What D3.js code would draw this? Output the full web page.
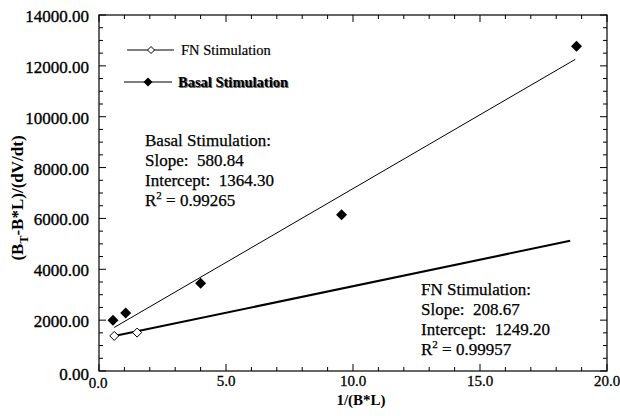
<!DOCTYPE html>
<html><head><meta charset="utf-8">
<script src="https://cdn.jsdelivr.net/npm/d3@7/dist/d3.min.js"></script>
<style>body{margin:0;background:#fff}svg{display:block}svg text{font-family:"Liberation Serif","Times New Roman",Times,serif;fill:#000;white-space:pre}</style>
</head><body>
<svg id="c" width="620" height="416" font-family="Liberation Serif"></svg>
<script>
// Data
const fnX = [0.6, 1.5];
const fnY = [1380, 1510];
const basalX = [0.55, 1.05, 4.0, 9.55, 18.8];
const basalY = [2000, 2280, 3450, 6140, 12770];
const fnFit = {slope: 208.67, intercept: 1249.20, r2: "0.99957", x0: 0.6, x1: 18.55};
const basalFit = {slope: 580.84, intercept: 1364.30, r2: "0.99265", x0: 0.6, x1: 18.75};
const yTicks = [0, 2000, 4000, 6000, 8000, 10000, 12000, 14000];
const xTicks = [0, 5, 10, 15, 20];

const SERIF = "'Liberation Serif', 'Times New Roman', serif";
const svg = d3.select("#c");
const L = 99, R = 607, T = 15, B = 371;
const x = d3.scaleLinear().domain([0, 20]).range([L, R]);
const y = d3.scaleLinear().domain([0, 14000]).range([B, T]);

const txt = (sel) => sel.append("text").attr("font-family", SERIF).attr("xml:space", "preserve");

// frame
svg.append("rect").attr("x", L).attr("y", T).attr("width", R - L).attr("height", B - T)
  .attr("fill", "none").attr("stroke", "#000").attr("stroke-width", 1.2);

// ticks (inward on all sides)
const yMinor = d3.range(0, 14001, 500);
const xMinor = d3.range(0, 20.01, 1);
const g = svg.append("g").attr("stroke", "#000").attr("stroke-width", 1);
yMinor.forEach(v => {
  const len = v % 2000 === 0 ? 7 : 4;
  g.append("line").attr("x1", L).attr("x2", L + len).attr("y1", y(v)).attr("y2", y(v));
  g.append("line").attr("x1", R).attr("x2", R - len).attr("y1", y(v)).attr("y2", y(v));
});
xMinor.forEach(v => {
  const len = Math.abs(v % 5) < 1e-9 ? 7 : 4;
  g.append("line").attr("y1", B).attr("y2", B - len).attr("x1", x(v)).attr("x2", x(v));
  g.append("line").attr("y1", T).attr("y2", T + len).attr("x1", x(v)).attr("x2", x(v));
});

// tick labels
yTicks.forEach(d => {
  txt(svg).attr("x", 89).attr("y", y(d) + (d === 0 ? 9 : 7))
    .attr("text-anchor", "end").attr("font-size", 17)
    .attr("stroke", "#000").attr("stroke-width", 0.35)
    .text(d3.format(".2f")(d));
});
xTicks.forEach(d => {
  txt(svg).attr("x", x(d) + (d === 0 ? -1 : 0)).attr("y", d === 0 ? 388 : 386)
    .attr("text-anchor", "middle").attr("font-size", 15)
    .attr("stroke", "#000").attr("stroke-width", 0.3)
    .text(d3.format(".1f")(d));
});

// axis titles
txt(svg).attr("x", 361).attr("y", 405).attr("text-anchor", "middle")
  .attr("font-size", 15).attr("font-weight", "bold").text("1/(B*L)");
const yt = txt(svg).attr("transform", "translate(23,198) rotate(-90)")
  .attr("text-anchor", "middle").attr("font-size", 17).attr("font-weight", "bold");
yt.append("tspan").text("(B");
yt.append("tspan").attr("dy", 5).attr("font-size", 12).text("T");
yt.append("tspan").attr("dy", -5).text("-B*L)/(dV/dt)");

// fit lines
svg.append("line")
  .attr("x1", x(fnFit.x0)).attr("y1", y(fnFit.intercept + fnFit.slope * fnFit.x0))
  .attr("x2", x(fnFit.x1)).attr("y2", y(fnFit.intercept + fnFit.slope * fnFit.x1))
  .attr("stroke", "#000").attr("stroke-width", 2);
svg.append("line")
  .attr("x1", x(basalFit.x0)).attr("y1", y(basalFit.intercept + basalFit.slope * basalFit.x0))
  .attr("x2", x(basalFit.x1)).attr("y2", y(basalFit.intercept + basalFit.slope * basalFit.x1))
  .attr("stroke", "#000").attr("stroke-width", 1);

// markers
const diamond = (cx, cy, r) => `M${cx},${cy - r}L${cx + r},${cy}L${cx},${cy + r}L${cx - r},${cy}Z`;
svg.append("g").selectAll("path").data(basalX.map((v, i) => [v, basalY[i]])).join("path")
  .attr("d", d => diamond(x(d[0]), y(d[1]), 5.5)).attr("fill", "#000");
svg.append("g").selectAll("path").data(fnX.map((v, i) => [v, fnY[i]])).join("path")
  .attr("d", d => diamond(x(d[0]), y(d[1]), 4.5)).attr("fill", "#fff").attr("stroke", "#000").attr("stroke-width", 1);

// legend
svg.append("line").attr("x1", 127).attr("x2", 174).attr("y1", 50).attr("y2", 50).attr("stroke", "#000").attr("stroke-width", 1.2);
svg.append("path").attr("d", diamond(151, 50, 3.5)).attr("fill", "#fff").attr("stroke", "#000");
txt(svg).attr("x", 181).attr("y", 55).attr("font-size", 14.5).attr("stroke", "#000").attr("stroke-width", 0.2).text("FN Stimulation");
svg.append("line").attr("x1", 124).attr("x2", 172).attr("y1", 82).attr("y2", 82).attr("stroke", "#000").attr("stroke-width", 1.2);
svg.append("path").attr("d", diamond(148, 82, 4.5)).attr("fill", "#000");
txt(svg).attr("x", 179).attr("y", 88).attr("font-size", 14.5).attr("font-weight", "bold").style("fill", "#666").text("Basal Stimulation");
txt(svg).attr("x", 178).attr("y", 87).attr("font-size", 14.5).attr("font-weight", "bold").text("Basal Stimulation");

// annotations
function annot(x0, y0, title, fit) {
  const lines = [title, `Slope:  ${fit.slope.toFixed(2)}`, `Intercept:  ${fit.intercept.toFixed(2)}`];
  lines.forEach((s, i) => txt(svg).attr("x", x0).attr("y", y0 + i * 20).attr("font-size", 17)
    .attr("stroke", "#000").attr("stroke-width", 0.25).text(s));
  const t = txt(svg).attr("x", x0).attr("y", y0 + 60).attr("font-size", 17)
    .attr("stroke", "#000").attr("stroke-width", 0.25);
  t.append("tspan").text("R");
  t.append("tspan").attr("dy", -7).attr("font-size", 11).text("2");
  t.append("tspan").attr("dy", 7).text(" = " + fit.r2);
}
annot(145, 146, "Basal Stimulation:", basalFit);
annot(421, 295, "FN Stimulation:", fnFit);
</script>
</body></html>
